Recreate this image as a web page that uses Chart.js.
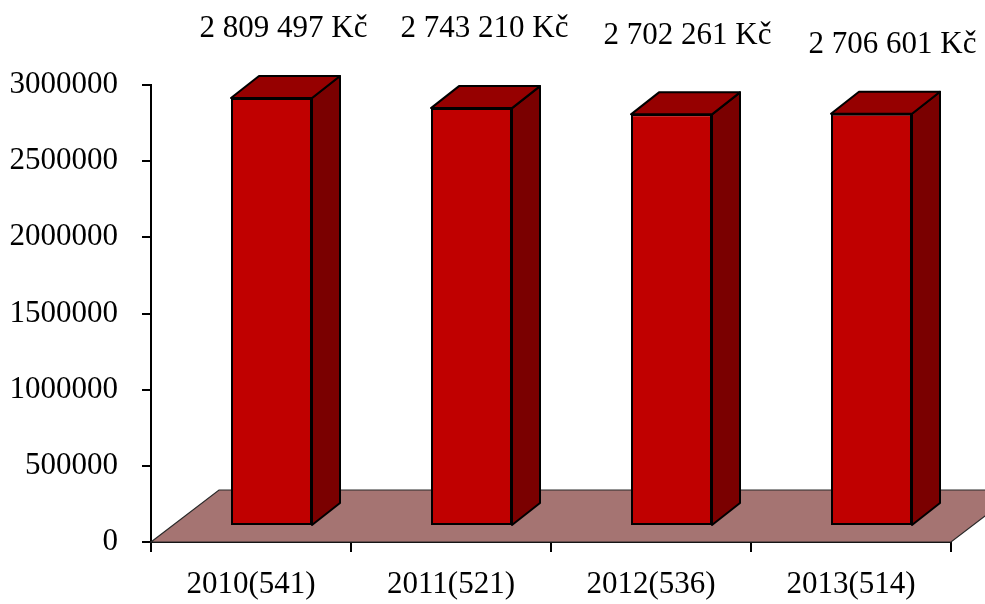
<!DOCTYPE html>
<html>
<head>
<meta charset="utf-8">
<script src="https://cdn.jsdelivr.net/npm/chart.js@4/dist/chart.umd.min.js"></script>
<style>
  html, body { margin: 0; padding: 0; background: #fff; }
  #wrap { width: 985px; height: 604px; }
</style>
</head>
<body>
<div id="wrap"><canvas id="costChart" width="985" height="604"></canvas></div>
<script>
// data
const categories = ['2010(541)', '2011(521)', '2012(536)', '2013(514)'];
const totals = [2809497, 2743210, 2702261, 2706601];
const yTicks = [0, 500000, 1000000, 1500000, 2000000, 2500000, 3000000];

// 3D look
const FLOOR = { dx: 68, dy: -52 };   // depth of the floor
const FRONT = { dx: 20.5, dy: -16 }; // where the bar fronts sit in depth
const DEPTH = { dx: 28, dy: -22 };   // depth of a bar
// hand placed value labels, relative to the back of each bar top
const labelDx = [-16, -15, -12, -7];
const labelLift = [47, 57, 56, 47];

const FONT = '"Liberation Serif", "Times New Roman", serif';
const FONT_SIZE = 31;

function fmtKc(v) {
  return String(v).replace(/\B(?=(\d{3})+(?!\d))/g, ' ') + ' Kč';
}

const bar3d = {
  id: 'bar3d',
  beforeDatasetsDraw(chart) {
    const { ctx, chartArea } = chart;
    const y0 = chart.scales.y.getPixelForValue(0);
    // floor
    ctx.save();
    ctx.beginPath();
    ctx.moveTo(chartArea.left, y0);
    ctx.lineTo(chartArea.left + FLOOR.dx, y0 + FLOOR.dy);
    ctx.lineTo(chartArea.right + FLOOR.dx, y0 + FLOOR.dy);
    ctx.lineTo(chartArea.right, y0);
    ctx.closePath();
    ctx.fillStyle = '#A57472';
    ctx.fill();
    ctx.strokeStyle = '#2a2a2a';
    ctx.lineWidth = 1.2;
    ctx.stroke();
    ctx.restore();
    // shift the fronts back into the floor
    ctx.save();
    ctx.translate(FRONT.dx, FRONT.dy);
  },
  afterDatasetsDraw(chart) {
    const { ctx } = chart;
    const meta = chart.getDatasetMeta(0);
    meta.data.forEach((bar, i) => {
      const p = bar.getProps(['x', 'y', 'base', 'width'], true);
      const L = p.x - p.width / 2, R = p.x + p.width / 2;
      const T = p.y, B = p.base;
      ctx.lineWidth = 2;
      ctx.strokeStyle = '#000';
      ctx.lineJoin = 'round';
      // side
      ctx.beginPath();
      ctx.moveTo(R, B);
      ctx.lineTo(R + DEPTH.dx, B + DEPTH.dy);
      ctx.lineTo(R + DEPTH.dx, T + DEPTH.dy);
      ctx.lineTo(R, T);
      ctx.closePath();
      ctx.fillStyle = '#7A0000';
      ctx.fill();
      ctx.stroke();
      // top
      ctx.beginPath();
      ctx.moveTo(L, T);
      ctx.lineTo(L + DEPTH.dx, T + DEPTH.dy);
      ctx.lineTo(R + DEPTH.dx, T + DEPTH.dy);
      ctx.lineTo(R, T);
      ctx.closePath();
      ctx.fillStyle = '#960000';
      ctx.fill();
      ctx.stroke();
      // value label
      ctx.fillStyle = '#000';
      ctx.font = FONT_SIZE + 'px ' + FONT;
      ctx.textAlign = 'center';
      ctx.textBaseline = 'middle';
      ctx.fillText(fmtKc(totals[i]), p.x + DEPTH.dx + labelDx[i], T + DEPTH.dy - labelLift[i]);
    });
    ctx.restore();
  }
};

new Chart(document.getElementById('costChart'), {
  type: 'bar',
  data: {
    labels: categories,
    datasets: [{
      data: totals,
      backgroundColor: '#C00000',
      borderColor: '#000',
      borderWidth: 2,
      borderSkipped: false,
      categoryPercentage: 1,
      barPercentage: 0.405,
      clip: false
    }]
  },
  options: {
    responsive: false,
    animation: false,
    layout: { padding: { top: 85, right: 34, left: 0, bottom: 0 } },
    plugins: { legend: { display: false }, tooltip: { enabled: false } },
    scales: {
      x: {
        grid: { drawOnChartArea: false, drawTicks: true, tickLength: 10, color: '#000', lineWidth: 2 },
        border: { color: '#000', width: 2 },
        ticks: { color: '#000', font: { family: FONT, size: FONT_SIZE }, padding: 14, maxRotation: 0 },
        afterFit: s => { s.height = 62; }
      },
      y: {
        min: 0,
        max: 3000000,
        afterBuildTicks: s => { s.ticks = yTicks.map(v => ({ value: v })); },
        grid: { drawOnChartArea: false, drawTicks: true, tickLength: 9, color: '#000', lineWidth: 2 },
        border: { color: '#000', width: 2 },
        ticks: { color: '#000', font: { family: FONT, size: FONT_SIZE }, padding: 24, callback: v => String(v) },
        afterFit: s => { s.width = 151; }
      }
    }
  },
  plugins: [bar3d]
});
</script>
</body>
</html>
